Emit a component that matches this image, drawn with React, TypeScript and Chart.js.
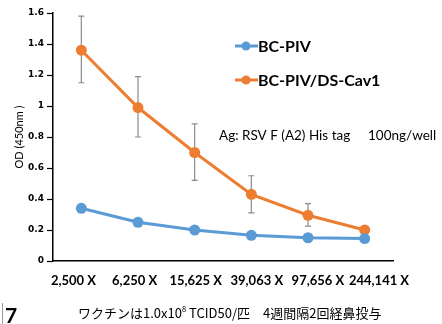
import React, { useEffect, useRef } from "react";
import { Chart, registerables } from "chart.js";

Chart.register(...registerables);

const categories = ["2,500 X", "6,250 X", "15,625 X", "39,063 X", "97,656 X", "244,141 X"];
const bcPiv = [0.34, 0.25, 0.2, 0.166, 0.15, 0.145];
const bcPivErrHi = [0.36, 0.26, 0.21, 0.175, 0.16, 0.155];
const bcPivErrLo = [0.32, 0.24, 0.19, 0.157, 0.14, 0.135];
const dsCav1 = [1.36, 0.99, 0.7, 0.43, 0.295, 0.2];
const dsCav1ErrHi = [1.58, 1.19, 0.885, 0.55, 0.37, 0.21];
const dsCav1ErrLo = [1.15, 0.8, 0.52, 0.31, 0.225, 0.19];
const yTicks = [0, 0.2, 0.4, 0.6, 0.8, 1, 1.2, 1.4, 1.6];
const seriesNames = ["BC-PIV", "BC-PIV/DS-Cav1"];
const annotation1 = "Ag: RSV F (A2) His tag";
const annotation2 = "100ng/well";
const footA = "ワクチンは1.0x10";
const footSup = "8";
const footB = " TCID50/匹　4週間隔2回経鼻投与";
const figNo = "7";

const BLUE = "#5B9BD5";
const ORANGE = "#ED7D31";
const FONT = "Lato, 'Noto Sans', sans-serif";

const errorBars = {
  id: "errorBars",
  beforeDatasetsDraw(chart: any) {
    const ctx = chart.ctx;
    const y = chart.scales.y;
    const sets = [
      [bcPivErrLo, bcPivErrHi],
      [dsCav1ErrLo, dsCav1ErrHi],
    ];
    ctx.save();
    ctx.strokeStyle = "#8c8c8c";
    ctx.lineWidth = 1.2;
    sets.forEach((s, di) => {
      const meta = chart.getDatasetMeta(di);
      meta.data.forEach((pt: any, i: number) => {
        const x = pt.x;
        const yl = y.getPixelForValue(s[0][i]);
        const yh = y.getPixelForValue(s[1][i]);
        ctx.beginPath();
        ctx.moveTo(x, yl);
        ctx.lineTo(x, yh);
        ctx.moveTo(x - 3, yl);
        ctx.lineTo(x + 3, yl);
        ctx.moveTo(x - 3, yh);
        ctx.lineTo(x + 3, yh);
        ctx.stroke();
      });
    });
    ctx.restore();
  },
};

const extras = {
  id: "extras",
  afterDraw(chart: any) {
    const ctx = chart.ctx;
    ctx.save();
    const items = [
      { name: seriesNames[0], color: BLUE, y: 46 },
      { name: seriesNames[1], color: ORANGE, y: 80 },
    ];
    items.forEach((it) => {
      ctx.strokeStyle = it.color;
      ctx.lineWidth = 3;
      ctx.beginPath();
      ctx.moveTo(235, it.y);
      ctx.lineTo(258, it.y);
      ctx.stroke();
      ctx.fillStyle = it.color;
      ctx.beginPath();
      ctx.arc(246, it.y, 4.5, 0, Math.PI * 2);
      ctx.fill();
      ctx.fillStyle = "#000";
      ctx.font = "bold 16px " + FONT;
      ctx.textBaseline = "middle";
      ctx.textAlign = "left";
      ctx.fillText(it.name, 258, it.y + 1);
    });
    ctx.font = "13.5px " + FONT;
    ctx.fillStyle = "#000";
    ctx.textBaseline = "middle";
    ctx.fillText(annotation1, 219, 136);
    ctx.fillText(annotation2, 368, 136);
    ctx.strokeStyle = "#999";
    ctx.lineWidth = 1;
    ctx.beginPath();
    ctx.moveTo(2.5, 303);
    ctx.lineTo(2.5, 324);
    ctx.stroke();
    ctx.font = "bold 21px " + FONT;
    ctx.fillText(figNo, 5, 316);
    const jp = "'Noto Sans CJK JP', " + FONT;
    ctx.font = "13px " + jp;
    let x = 78;
    ctx.fillText(footA, x, 313);
    x += ctx.measureText(footA).width;
    ctx.font = "7.5px " + jp;
    ctx.fillText(footSup, x, 309);
    x += ctx.measureText(footSup).width;
    ctx.font = "13px " + jp;
    ctx.fillText(footB, x, 313);
    ctx.restore();
  },
};

export default function App() {
  const ref = useRef<HTMLCanvasElement>(null);
  useEffect(() => {
    const chart = new Chart(ref.current!, {
      type: "line",
      data: {
        labels: categories,
        datasets: [
          {
            label: seriesNames[0],
            data: bcPiv,
            borderColor: BLUE,
            backgroundColor: BLUE,
            borderWidth: 3,
            pointRadius: 5.5,
            pointBorderWidth: 0,
          },
          {
            label: seriesNames[1],
            data: dsCav1,
            borderColor: ORANGE,
            backgroundColor: ORANGE,
            borderWidth: 3,
            pointRadius: 5.5,
            pointBorderWidth: 0,
          },
        ],
      },
      options: {
        animation: false,
        responsive: false,
        devicePixelRatio: 1,
        layout: { padding: { top: 13, right: 49, left: 0, bottom: 0 } },
        plugins: { legend: { display: false }, tooltip: { enabled: false } },
        scales: {
          x: {
            display: false,
            offset: true,
          },
          xLabels: {
            type: "linear",
            position: "bottom",
            min: -0.3355,
            max: 5.229,
            afterBuildTicks(scale: any) {
              scale.ticks = categories.map((_, i) => ({ value: i }));
            },
            grid: { display: false, drawTicks: false },
            border: { color: "#000", width: 1.5 },
            ticks: {
              color: "#000",
              font: { family: FONT, size: 13, weight: "bold" },
              padding: 12,
              maxRotation: 0,
              autoSkip: false,
              callback: (v: any) => categories[Math.round(Number(v))] ?? "",
            },
            afterFit(scale: any) {
              scale.height = 63;
            },
          },
          y: {
            min: 0,
            max: 1.6,
            afterBuildTicks(scale: any) {
              scale.ticks = yTicks.map((v) => ({ value: v }));
            },
            grid: { drawOnChartArea: false, tickLength: 6, color: "#000", tickWidth: 1.2 },
            border: { color: "#000", width: 1.5 },
            ticks: {
              color: "#000",
              font: { family: "'DejaVu Sans', sans-serif", size: 9, weight: "bold" },
              padding: 3,
              callback: (v: any) => String(Number(v)),
            },
            title: {
              display: true,
              text: "OD (450nm )",
              color: "#000",
              font: { family: FONT, size: 11 },
              padding: { top: 13, bottom: 0 },
            },
            afterFit(scale: any) {
              scale.width = 53;
            },
          },
        },
      },
      plugins: [errorBars, extras],
    } as any);
    return () => chart.destroy();
  }, []);
  return (
    <div style={{ position: "absolute", left: 0, top: 0, width: 442, height: 324, background: "#fff" }}>
      <canvas ref={ref} width={442} height={324} style={{ width: 442, height: 324 }} />
    </div>
  );
}
